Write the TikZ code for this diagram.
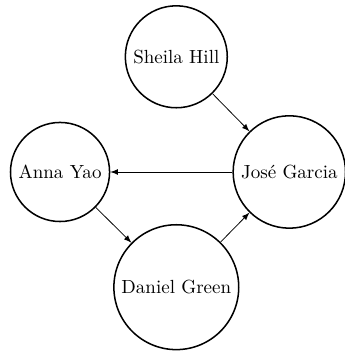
\documentclass[tikz,border=0pt]{standalone}
\usepackage{tikz}
\tikzset{
    person/.style = {draw, circle, thick},
    link/.style   = {->, >=latex}
}

\begin{document}
\begin{tikzpicture}
            \useasboundingbox                               (-3.26,-3.31) rectangle (3.11, 3.18);
            \node[person] (sheila) at ( 0.00, 2.13) {Sheila Hill};
            \node[person] (jose)   at ( 2.09, 0.00) {Jos\'e Garcia};
            \node[person] (anna)   at (-2.15, 0.00) {Anna Yao};
            \node[person] (daniel) at ( 0.00,-2.13) {Daniel Green};
            \draw[link] (sheila) -- (jose);
            \draw[link] (jose)   -- (anna);
            \draw[link] (anna)   -- (daniel);
            \draw[link] (daniel) -- (jose);
            \end{tikzpicture}
\end{document}
